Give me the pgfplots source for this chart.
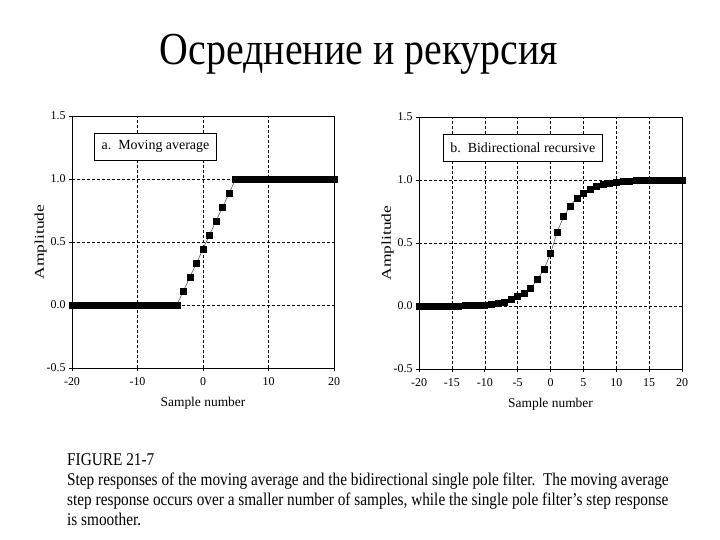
\documentclass[border=0pt]{standalone}
\usepackage{fontspec}
\setmainfont{Liberation Serif}
\usepackage{pgfplots}
\pgfplotsset{compat=1.18}
\pgfplotstableread{
x y
-20 0
-19 0
-18 0
-17 0
-16 0
-15 0
-14 0
-13 0
-12 0
-11 0
-10 0
-9 0
-8 0
-7 0
-6 0
-5 0
-4 0
-3 0.111
-2 0.222
-1 0.333
0 0.444
1 0.556
2 0.667
3 0.778
4 0.889
5 1
6 1
7 1
8 1
9 1
10 1
11 1
12 1
13 1
14 1
15 1
16 1
17 1
18 1
19 1
20 1
}\movavg
\pgfplotstableread{
x y
-20 0
-19 0
-18 0
-17 0
-16 0
-15 0
-14 0.001
-13 0.002
-12 0.003
-11 0.005
-10 0.008
-9 0.014
-8 0.021
-7 0.033
-6 0.05
-5 0.074
-4 0.104
-3 0.142
-2 0.208
-1 0.29
0 0.416
1 0.587
2 0.71
3 0.795
4 0.858
5 0.895
6 0.926
7 0.951
8 0.963
9 0.976
10 0.982
11 0.988
12 0.991
13 0.994
14 0.996
15 0.997
16 0.998
17 0.999
18 0.999
19 1
20 1
}\bidir
\pgfplotsset{
  myax/.style={
    scale only axis, height=252bp,
    xmin=-20, xmax=20, ymin=-0.5, ymax=1.5,
    ytick={-0.5,0,0.5,1,1.5},
    yticklabels={-0.5,0.0,0.5,1.0,1.5},
    grid=major,
    major grid style={dash pattern=on 3bp off 2bp, black, line width=0.5bp},
    axis line style={black, line width=0.8bp},
    tick style={black, line width=0.6bp},
    tick align=outside, major tick length=3bp,
    xtick pos=bottom, ytick pos=left,
    tick label style={font=\fontsize{12}{14}\selectfont},
    xticklabel style={yshift=-3bp},
    label style={font=\fontsize{13.5}{16}\selectfont},
    xlabel={Sample number},
    ylabel={\scalebox{1.3}[1]{Amplitude}},
    xlabel shift=5bp, ylabel shift=-7bp,
  },
  myplot/.style={gray!70!black, line width=0.6bp, mark=square*, mark size=3.0bp,
    mark options={fill=black, draw=black, solid}},
}
\begin{document}
\begin{tikzpicture}[x=1bp,y=1bp]
\path[use as bounding box] (0,0) rectangle (720,-540);
\node[anchor=base, inner sep=0] at (359,-65) {\scalebox{0.87}[1]{\fontsize{46}{50}\selectfont Осреднение и рекурсия}};

\begin{axis}[myax, at={(72bp,-368bp)}, anchor=south west, width=262bp,
  xtick={-20,-10,0,10,20}, xticklabels={-20,-10,0,10,20}]
\addplot[myplot] table[x=x,y=y] {\movavg};
\node[draw=black, line width=0.8bp, fill=white, anchor=north west, minimum height=27bp, inner xsep=7bp,
  font=\fontsize{14}{16}\selectfont] at (rel axis cs:0.085,0.933) {a.\enspace Moving average};
\end{axis}

\begin{axis}[myax, at={(419bp,-369bp)}, anchor=south west, width=263bp,
  xtick={-20,-15,...,20}, xticklabels={-20,-15,-10,-5,0,5,10,15,20}]
\addplot[myplot] table[x=x,y=y] {\bidir};
\node[draw=black, line width=0.8bp, fill=white, anchor=north west, minimum height=27bp, inner xsep=7bp,
  font=\fontsize{14}{16}\selectfont] at (rel axis cs:0.091,0.933) {b.\enspace Bidirectional recursive};
\end{axis}

\begin{scope}[every node/.style={anchor=base west, inner sep=0}]
\node at (67,-465) {\scalebox{0.853}[1]{\fontsize{18}{20}\selectfont FIGURE 21-7}};
\node at (67,-485) {\scalebox{0.853}[1]{\fontsize{18}{20}\selectfont Step responses of the moving average and the bidirectional single pole filter.\ \ The moving average}};
\node at (67,-505) {\scalebox{0.853}[1]{\fontsize{18}{20}\selectfont step response occurs over a smaller number of samples, while the single pole filter's step response}};
\node at (67,-525) {\scalebox{0.853}[1]{\fontsize{18}{20}\selectfont is smoother.}};
\end{scope}
\end{tikzpicture}
\end{document}
